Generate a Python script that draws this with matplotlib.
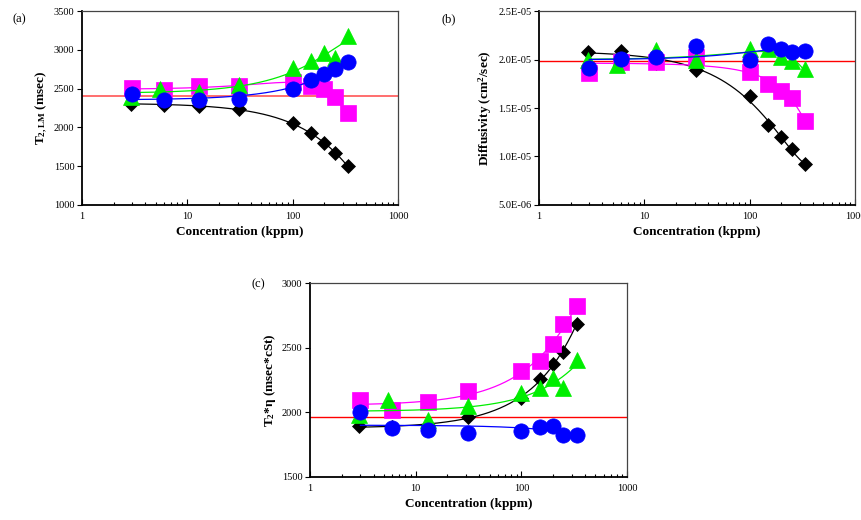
import numpy as np
import matplotlib
matplotlib.use('Agg')
import matplotlib.pyplot as plt
from matplotlib.ticker import FixedLocator, LogLocator, NullFormatter, FuncFormatter

plt.rcParams['font.family'] = ['Liberation Serif', 'DejaVu Serif']
plt.rcParams['mathtext.fontset'] = 'custom'
plt.rcParams['mathtext.rm'] = 'Liberation Serif'
plt.rcParams['mathtext.bf'] = 'Liberation Serif:bold'
plt.rcParams['mathtext.it'] = 'Liberation Serif:italic'

# concentrations (kppm)
conc = [3, 6, 13, 31, 100, 150, 200, 250, 333]
conc_black = [2.9, 6, 13, 31, 100, 150, 200, 250, 333]
conc_green = [2.9, 5.5, 13, 31, 100, 150, 200, 250, 333]

# (a) T2,LM (msec)
t2_black = [2300, 2295, 2270, 2235, 2055, 1925, 1795, 1675, 1505]
t2_magenta = [2510, 2480, 2530, 2530, 2585, 2540, 2490, 2395, 2180]
t2_green = [2395, 2490, 2460, 2545, 2760, 2855, 2965, 2890, 3175]
t2_blue = [2435, 2350, 2350, 2370, 2490, 2615, 2685, 2755, 2845]
t2_ref = 2400

# (b) diffusivity (cm2/sec)
d_black = [2.08e-5, 2.09e-5, 1.96e-5, 1.89e-5, 1.62e-5, 1.32e-5, 1.20e-5, 1.08e-5, 0.92e-5]
d_magenta = [1.86e-5, 1.975e-5, 1.975e-5, 2.03e-5, 1.87e-5, 1.75e-5, 1.68e-5, 1.60e-5, 1.37e-5]
d_green = [2.00e-5, 1.94e-5, 2.10e-5, 2.00e-5, 2.11e-5, 2.11e-5, 2.03e-5, 1.98e-5, 1.90e-5]
d_blue = [1.91e-5, 2.01e-5, 2.03e-5, 2.14e-5, 1.99e-5, 2.16e-5, 2.11e-5, 2.08e-5, 2.09e-5]
d_ref = 1.98e-5

# (c) T2*eta (msec*cSt)
te_black = [1893, 1885, 1900, 1966, 2113, 2258, 2372, 2470, 2687]
te_magenta = [2095, 2017, 2082, 2165, 2323, 2398, 2530, 2685, 2819]
te_green = [1978, 2095, 1940, 2051, 2147, 2186, 2263, 2186, 2405]
te_blue = [1999, 1880, 1862, 1841, 1854, 1888, 1896, 1828, 1823]
te_ref = 1966

BLACK, MAGENTA, GREEN, BLUE = 'black', '#ff00ff', '#00ee00', '#0000ff'


def series(ax, x, y, color, marker, ms, z, fit_max=None):
    x = np.asarray(x, float)
    y = np.asarray(y, float)
    sel = x <= (fit_max if fit_max else x.max())
    coef = np.polyfit(x[sel], y[sel], 2)
    xx = np.linspace(x[sel].min(), x[sel].max(), 300)
    ax.plot(xx, np.polyval(coef, xx), color=color, lw=0.9, zorder=z)
    ax.plot(x, y, linestyle='none', marker=marker, ms=ms, color=color,
            mec=color, mew=0.5, zorder=z + 0.5)


def style_axes(ax, ylim, yticks, ylabel, fmt=None):
    ax.set_xscale('log')
    ax.set_xlim(1, 1000)
    ax.set_ylim(*ylim)
    ax.yaxis.set_major_locator(FixedLocator(yticks))
    if fmt:
        ax.yaxis.set_major_formatter(FuncFormatter(fmt))
    ax.xaxis.set_major_locator(FixedLocator([1, 10, 100, 1000]))
    ax.xaxis.set_major_formatter(FuncFormatter(lambda v, p: '%d' % v))
    ax.xaxis.set_minor_locator(LogLocator(base=10, subs=np.arange(2, 10)))
    ax.xaxis.set_minor_formatter(NullFormatter())
    ax.tick_params(axis='x', which='major', direction='in', length=4, width=0.8, labelsize=7.5, pad=5)
    ax.tick_params(axis='x', which='minor', direction='in', length=2.5, width=0.8)
    ax.tick_params(axis='y', which='both', direction='out', length=3.5, width=0.8, labelsize=7.5, pad=2)
    ax.tick_params(axis='y', which='minor', left=False)
    for s in ['left', 'bottom']:
        ax.spines[s].set_linewidth(1.3)
        ax.spines[s].set_color('black')
    for s in ['top', 'right']:
        ax.spines[s].set_linewidth(0.9)
        ax.spines[s].set_color('#444444')
    ax.set_xlabel('Concentration (kppm)', fontsize=9.5, fontweight='bold', labelpad=4)
    ax.set_ylabel(ylabel, fontsize=9.5, fontweight='bold', labelpad=3)


fig = plt.figure(figsize=(8.62, 5.2), dpi=100)
ax_a = fig.add_axes([0.0951, 0.6058, 0.3666, 0.373])
ax_b = fig.add_axes([0.6253, 0.6058, 0.3666, 0.373])
ax_c = fig.add_axes([0.3596, 0.0827, 0.3678, 0.373])

MS_D, MS_S, MS_T, MS_O = 7, 11, 12, 11

# (a)
ax_a.axhline(t2_ref, color='#ff5555', lw=1.2, zorder=1)
series(ax_a, conc_black, t2_black, BLACK, 'D', MS_D, 2)
series(ax_a, conc, t2_magenta, MAGENTA, 's', MS_S, 3, fit_max=150)
series(ax_a, conc_green, t2_green, GREEN, '^', MS_T, 4)
series(ax_a, conc, t2_blue, BLUE, 'o', MS_O, 5)
style_axes(ax_a, (1000, 3500), [1000, 1500, 2000, 2500, 3000, 3500],
           r'T$_{\mathbf{2,LM}}$ (msec)')

# (b)
ax_b.axhline(d_ref, color='red', lw=1.0, zorder=1)
series(ax_b, conc_black, d_black, BLACK, 'D', MS_D, 2)
series(ax_b, conc, d_magenta, MAGENTA, 's', MS_S, 3)
series(ax_b, conc_green, d_green, GREEN, '^', MS_T, 4)
series(ax_b, conc, d_blue, BLUE, 'o', MS_O, 5)
style_axes(ax_b, (5e-6, 2.5e-5), [5e-6, 1e-5, 1.5e-5, 2e-5, 2.5e-5],
           r'Diffusivity (cm$^{\mathbf{2}}$/sec)', fmt=lambda v, p: '%.1E' % v)

# (c)
ax_c.axhline(te_ref, color='red', lw=1.0, zorder=1)
series(ax_c, conc_black, te_black, BLACK, 'D', MS_D, 2)
series(ax_c, conc, te_magenta, MAGENTA, 's', MS_S, 3)
series(ax_c, conc_green, te_green, GREEN, '^', MS_T, 4)
series(ax_c, conc, te_blue, BLUE, 'o', MS_O, 5)
style_axes(ax_c, (1500, 3000), [1500, 2000, 2500, 3000],
           r'T$_{\mathbf{2}}$*η (msec*cSt)')

fig.text(0.015, 0.975, '(a)', fontsize=9, va='top')
fig.text(0.512, 0.975, '(b)', fontsize=9, va='top')
fig.text(0.292, 0.465, '(c)', fontsize=9, va='top')

fig.savefig('out.png', dpi=100)
